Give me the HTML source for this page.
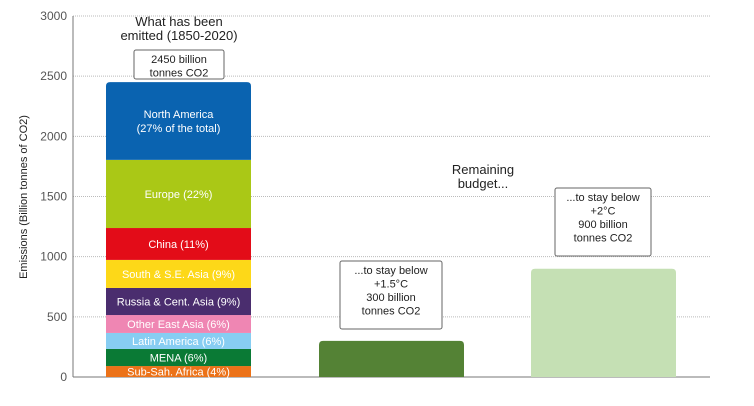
<!DOCTYPE html>
<html><head><meta charset="utf-8"><style>
body{margin:0;background:#fff;}
svg text{font-family:"Liberation Sans",sans-serif;}
</style></head><body>
<svg id="chart" width="754" height="401" xmlns="http://www.w3.org/2000/svg"></svg>
<script>
const regions = ["Sub-Sah. Africa (4%)","MENA (6%)","Latin America (6%)","Other East Asia (6%)","Russia & Cent. Asia (9%)","South & S.E. Asia (9%)","China (11%)","Europe (22%)","North America"];
const regionValues = [91,142,133,149,225,233,265,566,646];
const regionColors = ["#ec7218","#0a7a35","#87cdf2","#ef86b3","#4a2d6e","#fdd818","#e30c18","#aac816","#0a63b0"];
const budgetNames = ["budget-1-5c","budget-2c"];
const budgetValues = [300,900];
const yTicks = [0,500,1000,1500,2000,2500,3000];
const NS="http://www.w3.org/2000/svg";
const svg=document.getElementById('chart');
const y0=377, y1=16, x0=73, x1=710;
function y(v){return y0-(v/3000)*(y0-y1);}
function mk(t,a,p){const e=document.createElementNS(NS,t);for(const k in a)e.setAttribute(k,a[k]);(p||svg).appendChild(e);return e;}
function txt(x,yy,s,a){const e=mk('text',Object.assign({x:x,y:yy,'text-anchor':'middle','font-size':11,fill:'#222'},a||{}));e.textContent=s;return e;}
yTicks.forEach(v=>{
  if(v>0){const g=mk('line',{x1:x0,x2:x1,y1:y(v),y2:y(v),stroke:'#bbb','stroke-dasharray':'1,1'});
  
  }
  const t=txt(67,y(v)+4,String(v),{'text-anchor':'end','font-size':12,fill:'#555'});
  
  
});
let a=mk('line',{x1:x0,x2:x0,y1:y1,y2:y0,stroke:'#777'});
a=mk('line',{x1:x0,x2:x1,y1:y0,y2:y0,stroke:'#777'});
a=txt(0,0,'Emissions (Billion tonnes of CO2)',{transform:'translate(27,197) rotate(-90)','font-size':11});

// stacked bar
let cum=0;const bx=106,bw=145;
regions.forEach((r,i)=>{
  const v=regionValues[i];const top=y(cum+v),bot=y(cum);
  let el;
  if(i===regions.length-1){
    const h=bot-top;
    el=mk('path',{d:`M${bx},${bot} L${bx},${top+4} Q${bx},${top} ${bx+4},${top} L${bx+bw-4},${top} Q${bx+bw},${top} ${bx+bw},${top+4} L${bx+bw},${bot} Z`,fill:regionColors[i]});
  } else el=mk('rect',{x:bx,y:top,width:bw,height:bot-top,fill:regionColors[i]});
  
  
  const fc=(regionColors[i]=='#fdd818'||regionColors[i]=='#87cdf2'||regionColors[i]=='#ef86b3'||regionColors[i]=='#aac816')?'#fff':'#fff';
  let l;
  if(i===regions.length-1){
    l=txt(bx+bw/2,(top+bot)/2-3,r,{fill:'#fff'});
    const l2=txt(bx+bw/2,(top+bot)/2+11,'(27% of the total)',{fill:'#fff'});
    
    
  } else l=txt(bx+bw/2,(top+bot)/2+4,r,{fill:fc});
  
  
  cum+=v;
});
// budget bars
const bxs=[319,531], bcol=["#548235","#c5e0b4"];
budgetValues.forEach((v,i)=>{
  const top=y(v),bot=y0,x=bxs[i];
  const el=mk('path',{d:`M${x},${bot} L${x},${top+4} Q${x},${top} ${x+4},${top} L${x+bw-4},${top} Q${x+bw},${top} ${x+bw},${top+4} L${x+bw},${bot} Z`,fill:bcol[i]});
  
  
});
function box(x,yy,w,h,lines,name){
  const r=mk('rect',{x:x,y:yy,width:w,height:h,fill:'#fff',stroke:'#666',rx:2});
  
  
  lines.forEach((s,k)=>{const t=txt(x+w/2,yy+13+k*13.5,s);
  
  });
}
box(134,50,90,29,['2450 billion','tonnes CO2'],'total-label-box');
box(340,261,102,68,['...to stay below','+1.5°C','300 billion','tonnes CO2'],'budget-1-5c-label');
box(555,188,96,68,['...to stay below','+2°C','900 billion','tonnes CO2'],'budget-2c-label');
a=txt(179,26,'What has been',{'font-size':13});
a=txt(179,40,'emitted (1850-2020)',{'font-size':13});
a=txt(483,174,'Remaining',{'font-size':13});
a=txt(483,188,'budget...',{'font-size':13});
</script>
</body></html>
